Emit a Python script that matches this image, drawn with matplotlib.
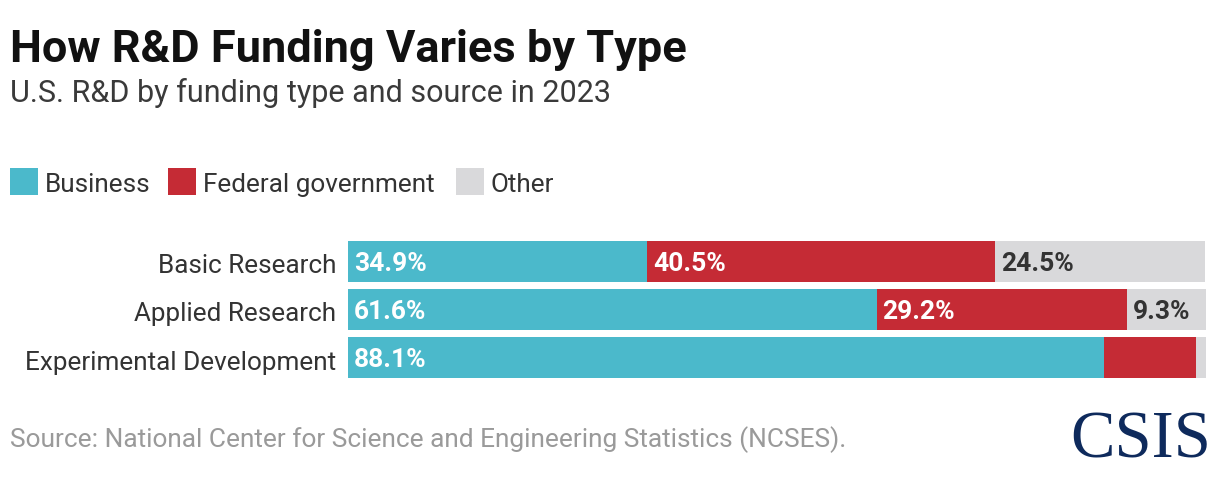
import numpy as np
import matplotlib
matplotlib.use("Agg")
from matplotlib import pyplot as plt
from matplotlib.patches import Rectangle

categories = ["Basic Research", "Applied Research", "Experimental Development"]
business = [34.9, 61.6, 88.1]
federal = [40.5, 29.2, 10.7]
other = [24.5, 9.3, 1.2]
labels_business = ["34.9%", "61.6%", "88.1%"]
labels_federal = ["40.5%", "29.2%", ""]
labels_other = ["24.5%", "9.3%", ""]

series_names = ["Business", "Federal government", "Other"]
colors = ["#4BB9CB", "#C52B35", "#D9D9DB"]

W, H = 1220, 478
plt.rcParams['font.family'] = ['Roboto', 'DejaVu Sans']
fig = plt.figure(figsize=(W / 100, H / 100), dpi=100)


def fx(px):
    return px / W


def fy(py):
    return 1 - py / H


# axes for the bars
ax = fig.add_axes([fx(348), fy(378), fx(1206) - fx(348), fy(241) - fy(378)])
y = np.arange(len(categories))
h = 0.84
left = np.zeros(len(categories))
for vals, col in zip([business, federal, other], colors):
    ax.barh(y, vals, left=left, height=h, color=col, linewidth=0)
    left = left + np.array(vals)

for i in range(len(categories)):
    ax.text(0.7, y[i] + 0.05, labels_business[i], va='center', ha='left',
            color='white', fontsize=19, fontweight='bold')
    ax.text(business[i] + 0.7, y[i] + 0.05, labels_federal[i], va='center', ha='left',
            color='white', fontsize=19, fontweight='bold')
    ax.text(business[i] + federal[i] + 0.7, y[i] + 0.05, labels_other[i], va='center',
            ha='left', color='#333333', fontsize=19, fontweight='bold')

ax.set_xlim(0, 100)
ax.set_ylim(len(categories) - 0.5 - (1 - h) / 2, -0.5 + (1 - h) / 2)
ax.set_yticks(y + 0.05)
ax.set_yticklabels(categories, fontsize=18.8, color='#333333')
ax.tick_params(axis='y', length=0, pad=8.5)
ax.set_xticks([])
for s in ax.spines.values():
    s.set_visible(False)

# titles
fig.text(fx(10), fy(62), "How R&D Funding Varies by Type", fontsize=32.5,
         fontweight='bold', color='#111111', va='baseline', ha='left')
fig.text(fx(10), fy(102), "U.S. R&D by funding type and source in 2023", fontsize=22,
         color='#3a3a3a', va='baseline', ha='left')

# legend
lx = [10, 168, 456]
for name, col, x0 in zip(series_names, colors, lx):
    fig.patches.append(Rectangle((fx(x0), fy(195)), fx(28), fy(168) - fy(195),
                                 transform=fig.transFigure, color=col, linewidth=0))
    fig.text(fx(x0 + 35), fy(192), name, fontsize=18.8, color='#333333',
             va='baseline', ha='left')

# source and logo
fig.text(fx(10), fy(447), "Source: National Center for Science and Engineering Statistics (NCSES).",
         fontsize=18.9, color='#9a9a9a', va='baseline', ha='left')
fig.text(fx(1211), fy(458), "CSIS", fontsize=48, family=['Liberation Serif', 'DejaVu Serif'],
         color='#0E2A5C', va='baseline', ha='right')

fig.savefig("out.png", dpi=100)
